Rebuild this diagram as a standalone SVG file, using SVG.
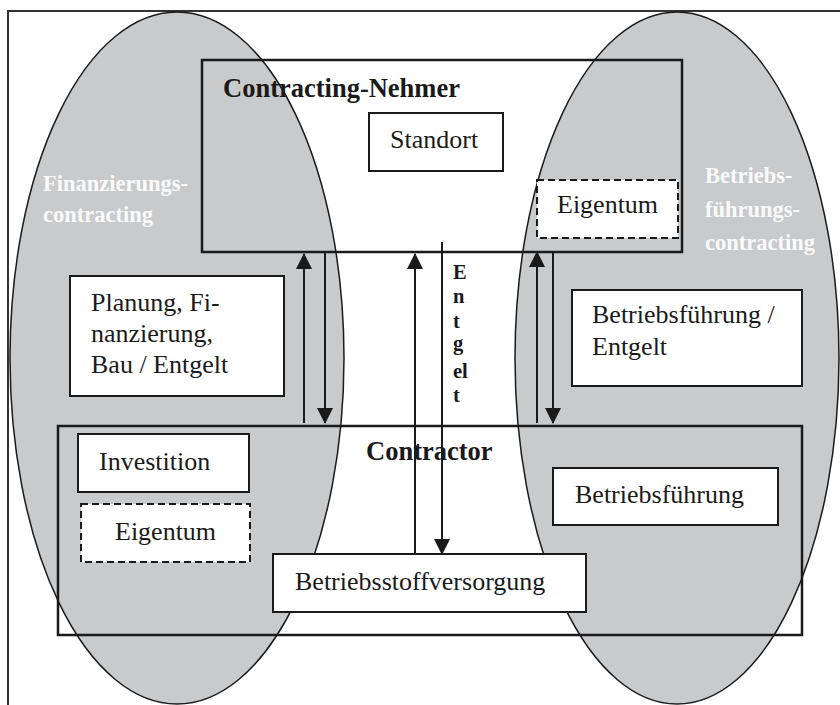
<svg xmlns="http://www.w3.org/2000/svg" width="840" height="705" viewBox="0 0 840 705">
  <defs>
    <style>
      .area { fill: #c9cacc; stroke: #1a1a1a; stroke-width: 1.5; }
      .frame { fill: none; stroke: #333; stroke-width: 2; }
      .party { fill: none; stroke: #1a1a1a; stroke-width: 2.5; }
      .box { fill: #fff; stroke: #1a1a1a; stroke-width: 2; }
      .dashed { fill: #fff; stroke: #1a1a1a; stroke-width: 2; stroke-dasharray: 7 4; }
      .txt { font-family: "Liberation Serif", "Times New Roman", serif; font-size: 26px; fill: #1a1a1a; }
      .title { font-family: "Liberation Serif", "Times New Roman", serif; font-size: 26.5px; font-weight: bold; fill: #1a1a1a; }
      .zone { font-family: "Liberation Serif", "Times New Roman", serif; font-size: 22.5px; font-weight: bold; fill: #fafafa; }
      .vert { font-family: "Liberation Serif", "Times New Roman", serif; font-size: 20.5px; font-weight: bold; fill: #1a1a1a; }
      .flow { fill: none; stroke: #1a1a1a; stroke-width: 2; }
    </style>
    <marker id="head" markerUnits="userSpaceOnUse" markerWidth="16" markerHeight="16" viewBox="0 0 16 16" refX="15" refY="8" orient="auto">
      <path d="M0,0 L16,8 L0,16 Z" fill="#1a1a1a"/>
    </marker>
  </defs>

  <rect width="840" height="705" fill="#fff"/>

  <!-- outer frame -->
  <path class="frame" d="M8,705 V11 H840"/>

  <!-- contracting areas -->
  <g id="area-finanzierung">
    <ellipse class="area" cx="177" cy="358" rx="167" ry="346"/>
  </g>
  <g id="area-betriebsfuehrung">
    <ellipse class="area" cx="677" cy="358" rx="162" ry="346"/>
  </g>

  <!-- parties -->
  <g id="contracting-nehmer">
    <rect class="party" x="202" y="60" width="480" height="192"/>
    <text class="title" x="223" y="97">Contracting-Nehmer</text>
  </g>
  <g id="contractor">
    <rect class="party" x="58" y="426" width="744" height="209"/>
    <text class="title" x="366" y="460">Contractor</text>
  </g>

  <!-- zone labels -->
  <g id="label-finanzierung">
    <text class="zone" x="43" y="191">Finanzierungs-</text>
    <text class="zone" x="43" y="222">contracting</text>
  </g>
  <g id="label-betriebsfuehrung">
    <text class="zone" x="705" y="183">Betriebs-</text>
    <text class="zone" x="705" y="217">führungs-</text>
    <text class="zone" x="705" y="250">contracting</text>
  </g>

  <!-- connectors -->
  <g id="connectors">
    <line class="flow" x1="304" y1="423" x2="304" y2="254" marker-end="url(#head)"/>
    <line class="flow" x1="325" y1="252" x2="325" y2="423" marker-end="url(#head)"/>
    <line class="flow" x1="415" y1="554" x2="415" y2="254" marker-end="url(#head)"/>
    <line class="flow" x1="442" y1="242" x2="442" y2="554" marker-end="url(#head)"/>
    <line class="flow" x1="537" y1="423" x2="537" y2="252" marker-end="url(#head)"/>
    <line class="flow" x1="553" y1="252" x2="553" y2="423" marker-end="url(#head)"/>
  </g>

  <!-- vertical payment label -->
  <g id="label-entgelt">
    <text class="vert" x="453" y="279">E</text>
    <text class="vert" x="453" y="303">n</text>
    <text class="vert" x="453" y="328">t</text>
    <text class="vert" x="453" y="350">g</text>
    <text class="vert" x="453" y="378">el</text>
    <text class="vert" x="453" y="402">t</text>
  </g>

  <!-- nodes -->
  <g id="standort">
    <rect class="box" x="369" y="113" width="134" height="58"/>
    <text class="txt" x="390" y="148">Standort</text>
  </g>
  <g id="eigentum-nehmer">
    <rect class="dashed" x="537" y="180" width="141" height="58"/>
    <text class="txt" x="557" y="213">Eigentum</text>
  </g>
  <g id="planung">
    <rect class="box" x="70" y="276" width="214" height="120"/>
    <text class="txt" x="91" y="311">Planung, Fi-</text>
    <text class="txt" x="91" y="342">nanzierung,</text>
    <text class="txt" x="91" y="373">Bau / Entgelt</text>
  </g>
  <g id="betriebsfuehrung-entgelt">
    <rect class="box" x="572" y="290" width="230" height="96"/>
    <text class="txt" x="592" y="323">Betriebsführung /</text>
    <text class="txt" x="592" y="355">Entgelt</text>
  </g>
  <g id="investition">
    <rect class="box" x="78" y="434" width="171" height="58"/>
    <text class="txt" x="99" y="470">Investition</text>
  </g>
  <g id="eigentum-contractor">
    <rect class="dashed" x="81" y="504" width="169" height="58"/>
    <text class="txt" x="115" y="540">Eigentum</text>
  </g>
  <g id="betriebsfuehrung">
    <rect class="box" x="553" y="468" width="225" height="57"/>
    <text class="txt" x="575" y="503">Betriebsführung</text>
  </g>
  <g id="betriebsstoffversorgung">
    <rect class="box" x="273" y="554" width="313" height="58"/>
    <text class="txt" x="295" y="590">Betriebsstoffversorgung</text>
  </g>
</svg>
